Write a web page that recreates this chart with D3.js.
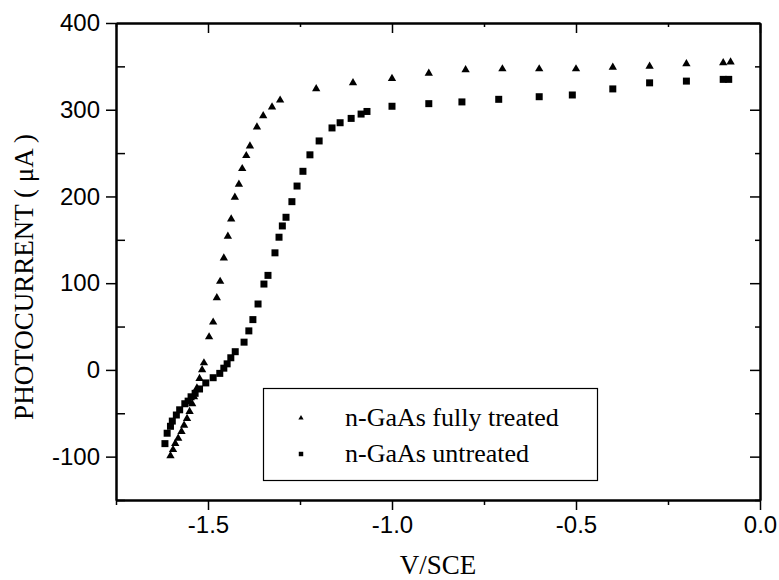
<!DOCTYPE html>
<html>
<head>
<meta charset="utf-8">
<script src="https://cdn.jsdelivr.net/npm/d3@7"></script>
<style>
  body { margin: 0; background: #fff; }
  .tick-label { font-family: "Liberation Sans", Arial, sans-serif; font-size: 24px; fill: #000; }
  .title { font-family: "Liberation Serif", "Times New Roman", serif; font-size: 27px; fill: #000; }
  .legend-text { font-family: "Liberation Serif", "Times New Roman", serif; font-size: 26px; fill: #000; }
</style>
</head>
<body>
<svg id="chart" width="779" height="580"></svg>
<script>
// Photocurrent vs potential, n-GaAs treated / untreated

const treatedV = [-1.602, -1.595, -1.589, -1.581, -1.572, -1.565, -1.557, -1.550, -1.543, -1.538,
  -1.530, -1.523, -1.516, -1.511, -1.497, -1.486, -1.476, -1.467, -1.457, -1.446,
  -1.437, -1.427, -1.416, -1.407, -1.396, -1.386, -1.367, -1.350, -1.326, -1.304,
  -1.206, -1.106, -1.0, -0.9, -0.8, -0.7, -0.6, -0.5, -0.4, -0.3, -0.2, -0.1, -0.08];
const treatedI = [-99, -92, -85, -79, -71, -64, -56, -48, -39, -31,
  -21, -10, 0, 8, 38, 55, 83, 102, 129, 154,
  174, 199, 214, 232, 247, 258, 280, 293, 303, 311,
  324, 331, 336, 342, 346, 347, 347, 347, 349, 350, 353, 354, 355];

const untreatedV = [-1.617, -1.611, -1.602, -1.597, -1.586, -1.577, -1.563, -1.554, -1.546, -1.535,
  -1.523, -1.506, -1.486, -1.468, -1.457, -1.448, -1.438, -1.426, -1.402, -1.389,
  -1.378, -1.364, -1.348, -1.337, -1.318, -1.307, -1.298, -1.288, -1.272, -1.258,
  -1.242, -1.223, -1.198, -1.163, -1.141, -1.111, -1.084, -1.068, -1.0, -0.9,
  -0.81, -0.71, -0.6, -0.51, -0.4, -0.3, -0.2, -0.1, -0.085];
const untreatedI = [-85, -73, -65, -59, -52, -46, -39, -36, -31, -27,
  -22, -15, -9, -4, 2, 7, 14, 21, 32, 45,
  58, 76, 99, 109, 135, 153, 166, 176, 194, 212,
  229, 248, 264, 279, 285, 290, 295, 298, 304, 307,
  309, 312, 315, 317, 324, 331, 333, 335, 335];

const xMajor = [-1.5, -1.0, -0.5, 0.0];
const xMinor = [-1.75, -1.25, -0.75, -0.25];
const yMajor = [-100, 0, 100, 200, 300, 400];
const yMinor = [-150, -50, 50, 150, 250, 350];

const seriesNames = ['n-GaAs fully treated', 'n-GaAs untreated'];

const plot = { left: 116, right: 760, top: 23, bottom: 500 };

const svg = d3.select('#chart');
const x = d3.scaleLinear().domain([-1.75, 0]).range([plot.left, plot.right]);
const y = d3.scaleLinear().domain([-150, 400]).range([plot.bottom, plot.top]);

// axes: frame on all four sides
function drawAxis(axisFn, scale, ticks, size, tx, ty, labels) {
  const a = axisFn(scale).tickValues(ticks).tickSizeInner(size).tickSizeOuter(0);
  if (labels) a.tickFormat(labels).tickPadding(6);
  else a.tickFormat('');
  const g = svg.append('g').attr('transform', `translate(${tx},${ty})`).call(a);
  g.select('.domain').attr('stroke', '#000').attr('stroke-width', 2);
  g.selectAll('.tick line').attr('stroke', '#000').attr('stroke-width', 1.5);
  g.selectAll('.tick text').attr('class', 'tick-label').attr('fill', '#000');
  return g;
}

drawAxis(d3.axisBottom, x, xMajor, 10, 0, plot.bottom, d => d.toFixed(1));
drawAxis(d3.axisBottom, x, xMinor, 5, 0, plot.bottom, null);
drawAxis(d3.axisTop, x, xMajor, -10, 0, plot.top, null);
drawAxis(d3.axisTop, x, xMinor, -4, 0, plot.top, null);
drawAxis(d3.axisLeft, y, yMajor, 10, plot.left, 0, d => String(d));
drawAxis(d3.axisLeft, y, yMinor, -9, plot.left, 0, null);
drawAxis(d3.axisRight, y, yMajor, -10, plot.right, 0, null);
drawAxis(d3.axisRight, y, yMinor, -5, plot.right, 0, null);

// axis titles
svg.append('text')
  .attr('class', 'title')
  .attr('x', (plot.left + plot.right) / 2)
  .attr('y', 574)
  .attr('text-anchor', 'middle')
  .text('V/SCE');

svg.append('text')
  .attr('class', 'title')
  .attr('transform', 'translate(33,277) rotate(-90)')
  .attr('text-anchor', 'middle')
  .text('PHOTOCURRENT ( \u03bcA )');

// markers
const tri = d3.symbol().type(d3.symbolTriangle).size(30);
const sq = d3.symbol().type(d3.symbolSquare).size(49);

svg.append('g').selectAll('path')
  .data(treatedV.map((v, i) => [v, treatedI[i]]))
  .join('path')
  .attr('d', tri)
  .attr('transform', d => `translate(${x(d[0])},${y(d[1])})`)
  .attr('fill', '#000');

svg.append('g').selectAll('path')
  .data(untreatedV.map((v, i) => [v, untreatedI[i]]))
  .join('path')
  .attr('d', sq)
  .attr('transform', d => `translate(${x(d[0])},${y(d[1])})`)
  .attr('fill', '#000');

// legend
const legend = svg.append('g');
legend.append('rect')
  .attr('x', 263.5).attr('y', 388.5)
  .attr('width', 334).attr('height', 92)
  .attr('fill', '#fff')
  .attr('stroke', '#000')
  .attr('stroke-width', 1.2);

const legendSymbols = [d3.symbol().type(d3.symbolTriangle).size(12), d3.symbol().type(d3.symbolSquare).size(20)];
seriesNames.forEach((name, i) => {
  const yy = 426 + i * 36;
  legend.append('path')
    .attr('d', legendSymbols[i])
    .attr('transform', `translate(301,${yy - 8})`)
    .attr('fill', '#000');
  legend.append('text')
    .attr('class', 'legend-text')
    .attr('x', 345)
    .attr('y', yy)
    .text(name);
});
</script>
</body>
</html>
